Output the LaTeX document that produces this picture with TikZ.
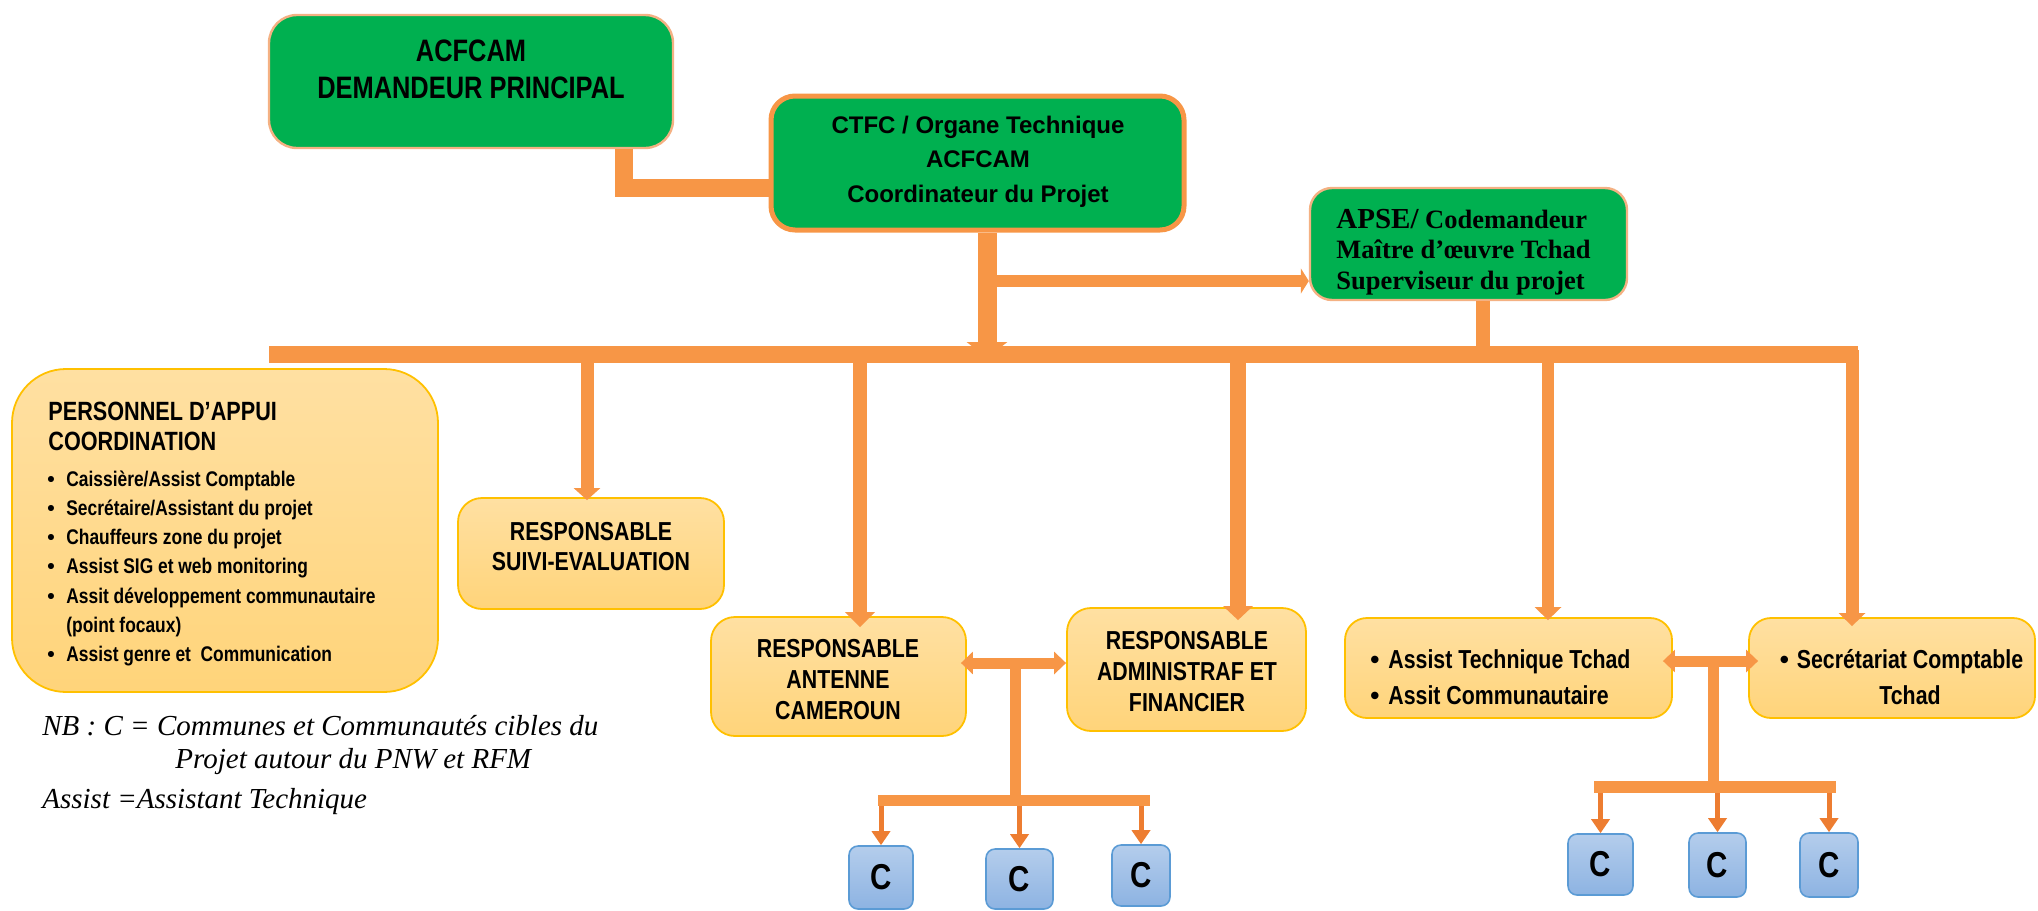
\documentclass[tikz,border=0pt]{standalone}
\usepackage{fontspec}
\setmainfont{Liberation Sans}
\newfontfamily\fNarrow{Liberation Sans}[FakeStretch=0.82]
\newfontfamily\fArial{Liberation Sans}
\newfontfamily\fTimes{Liberation Serif}
\usetikzlibrary{arrows.meta,calc}
\definecolor{grn}{HTML}{00B050}
\definecolor{org}{HTML}{F79646}
\definecolor{orgl}{HTML}{F4B183}
\definecolor{orgd}{HTML}{ED7D31}
\definecolor{ylt}{HTML}{FFE0A2}
\definecolor{ylb}{HTML}{FFD47A}
\definecolor{ybd}{HTML}{FFC000}
\definecolor{blt}{HTML}{B4CDEC}
\definecolor{blb}{HTML}{8DB3E2}
\definecolor{bbd}{HTML}{5B9BD5}
\newcommand\mlc[2]{\vtop{\baselineskip=#1\relax\lineskip=0pt\lineskiplimit=-100pt\halign{\hfil##\hfil\cr#2\crcr}}}
\newcommand\mll[2]{\vtop{\baselineskip=#1\relax\lineskip=0pt\lineskiplimit=-100pt\halign{##\hfil\cr#2\crcr}}}
\newcommand\mkbox[7]{\node[#2, minimum width={(#5-#3)*0.5pt}, minimum height={(#6-#4)*0.5pt}] (#1) at ({(#3+#5)/2},{(#4+#6)/2}) {#7};}
\newcommand\itembul[1]{\makebox[#1][l]{\fArial\bfseries •}}
\tikzset{
  gbox/.style={rectangle, rounded corners=#1, fill=grn, inner sep=0pt},
  ybox/.style={rectangle, rounded corners=#1, top color=ylt, bottom color=ylb, draw=ybd, line width=0.9pt, inner sep=0pt},
  cbox/.style={rectangle, rounded corners=4.5pt, top color=blt, bottom color=blb, draw=bbd, line width=0.8pt, inner sep=0pt, font=\fNarrow\bfseries\fontsize{18pt}{20pt}\selectfont},
  txt/.style={inner sep=0pt},
  conn/.style={draw=org, line width=#1},
  thin/.style={draw=orgd, line width=2.5pt, -{Triangle[width=9pt,length=7pt]}},
}
\begin{document}
\begin{tikzpicture}[x=0.5pt,y=-0.5pt]
\useasboundingbox (0,0) rectangle (2038,910);

% ---------- boxes ----------
\mkbox{acf}{gbox=14pt, draw=orgl, line width=1.2pt}{269}{15}{673}{148}{}
\mkbox{ctfc}{gbox=12pt, draw=org, line width=2.5pt}{771}{96}{1184}{230}{}
\mkbox{apse}{gbox=11pt, draw=orgl, line width=1.2pt}{1310}{188}{1627}{300}{}
\mkbox{pers}{ybox=27pt}{12}{369}{438}{692}{}
\mkbox{suivi}{ybox=12pt}{458}{498}{724}{609}{}
\mkbox{ant}{ybox=12pt}{711}{617}{966}{736}{}
\mkbox{adm}{ybox=12pt}{1067}{608}{1306}{731}{}
\mkbox{ast}{ybox=11pt}{1345}{618}{1672}{718}{}
\mkbox{sec}{ybox=11pt}{1749}{618}{2035}{718}{}
\mkbox{c1}{cbox}{849}{846}{913}{909}{C}
\mkbox{c2}{cbox}{986}{849}{1053}{909}{C}
\mkbox{c3}{cbox}{1112}{845}{1170}{906}{C}
\mkbox{c4}{cbox}{1568}{834}{1633}{895}{C}
\mkbox{c5}{cbox}{1689}{833}{1746}{897}{C}
\mkbox{c6}{cbox}{1800}{833}{1858}{897}{C}

% ---------- texts ----------
\node[txt, anchor=base] (tacf) at (471,61) {\fNarrow\bfseries\fontsize{15.5pt}{18pt}\selectfont\mlc{18.5pt}{ACFCAM\cr DEMANDEUR PRINCIPAL}};
\node[txt, anchor=base] (tctfc) at (978,133) {\fArial\bfseries\fontsize{12pt}{14pt}\selectfont\mlc{17.25pt}{CTFC / Organe Technique\cr ACFCAM\cr Coordinateur du Projet}};
\node[txt, anchor=base west] (tapse) at (1336,228) {\fTimes\bfseries\fontsize{13.25pt}{15pt}\selectfont\mll{15.25pt}{{\fontsize{14.5pt}{15pt}\selectfont APSE/} Codemandeur\cr Maître d’œuvre Tchad\cr Superviseur du projet}};
\node[txt, anchor=base west] (tpers) at (48,420) {\fNarrow\bfseries\fontsize{13.2pt}{15pt}\selectfont\mll{15pt}{PERSONNEL D’APPUI\cr COORDINATION}};
\node[txt, anchor=base west] (lpers) at (47,486) {\fNarrow\bfseries\fontsize{10.6pt}{12pt}\selectfont\mll{14.65pt}{\itembul{9.5pt}Caissière/Assist Comptable\cr
\itembul{9.5pt}Secrétaire/Assistant du projet\cr
\itembul{9.5pt}Chauffeurs zone du projet\cr
\itembul{9.5pt}Assist SIG et web monitoring\cr
\itembul{9.5pt}Assit développement communautaire\cr
\hspace*{9.5pt}(point focaux)\cr
\itembul{9.5pt}Assist genre et~ Communication}};
\node[txt, anchor=base] (tsuivi) at (591,540) {\fNarrow\bfseries\fontsize{13pt}{15pt}\selectfont\mlc{15pt}{RESPONSABLE\cr SUIVI-EVALUATION}};
\node[txt, anchor=base] (tant) at (838,657) {\fNarrow\bfseries\fontsize{13pt}{15pt}\selectfont\mlc{15.5pt}{RESPONSABLE\cr ANTENNE\cr CAMEROUN}};
\node[txt, anchor=base] (tadm) at (1187,649) {\fNarrow\bfseries\fontsize{13pt}{15pt}\selectfont\mlc{15.5pt}{RESPONSABLE\cr ADMINISTRAF ET\cr FINANCIER}};
\node[txt, anchor=base west] (tast) at (1370,668) {\fNarrow\bfseries\fontsize{13pt}{15pt}\selectfont\mll{18pt}{\itembul{9pt}Assist Technique Tchad\cr \itembul{9pt}Assit Communautaire}};
\node[txt, anchor=base] (tsec) at (1910,668) {\fNarrow\bfseries\fontsize{13pt}{15pt}\selectfont\mlc{18pt}{\llap{{\fArial\bfseries •}\hspace{4pt}}Secrétariat Comptable\cr Tchad}};
\node[txt, anchor=base west] (tnb) at (42,735) {\fTimes\itshape\fontsize{14.5pt}{16.5pt}\selectfont\mll{16.5pt}{NB : C = Communes et Communautés cibles du\cr \hspace*{66.5pt}Projet autour du PNW et RFM}};
\node[txt, anchor=base west] (tasn) at (42,808) {\fTimes\itshape\fontsize{14.5pt}{16.5pt}\selectfont Assist =Assistant Technique};

% ---------- connectors ----------
\coordinate (e1) at (624,188);
\draw[conn=9pt] (acf.south -| e1) |- (ctfc.west |- e1);
\coordinate (k1) at (987,358);
\draw[conn=9.5pt, -{Triangle[width=20pt,length=8pt]}] (ctfc.south -| k1) -- (k1);
\coordinate (k2) at (987,281);
\draw[conn=6pt, -{Triangle[width=12.5pt,length=4pt]}] (k2) -- (apse.west |- k2);
\coordinate (k3) at (1483,358);
\draw[conn=7pt, -{Triangle[width=12.5pt,length=6pt]}] (apse.south -| k3) -- (k3);
\coordinate (busL) at (269,354);
\coordinate (busR) at (1858,354);
\draw[conn=8.5pt] (busL) -- (busR);

\coordinate (d1) at (587,354);
\draw[conn=6.5pt, -{Triangle[width=13pt,length=6pt]}] (d1) -- ($(d1 |- suivi.north)+(0,3)$);
\coordinate (d2) at (860,354);
\draw[conn=7pt, -{Triangle[width=14.5pt,length=7.5pt]}] (d2) -- ($(d2 |- ant.north)+(0,11)$);
\coordinate (d3) at (1238,354);
\draw[conn=8pt, -{Triangle[width=14.5pt,length=7pt]}] (d3) -- ($(d3 |- adm.north)+(0,13)$);
\coordinate (d4) at (1548,354);
\draw[conn=6pt, -{Triangle[width=13pt,length=6.5pt]}] (d4) -- ($(d4 |- ast.north)+(0,3)$);
\coordinate (d5) at (1852,350);
\draw[conn=6.5pt, -{Triangle[width=13pt,length=6.5pt]}] (d5) -- ($(d5 |- sec.north)+(0,9)$);

% left group
\coordinate (m1) at (1015,663);
\coordinate (m1b) at (1015,800);
\coordinate (bl1) at (878,800);
\coordinate (bl2) at (1150,800);
\draw[conn=5.5pt, {Triangle[width=11pt,length=6pt]}-{Triangle[width=11pt,length=6pt]}] ($(ant.east |- m1)+(-6,0)$) -- (adm.west |- m1);
\draw[conn=5.5pt] (m1) -- (m1b);
\foreach \cc in {c1,c2,c3} {\draw[thin] ($(\cc.north |- bl1)+(0,4)$) -- (\cc.north);}
\draw[conn=5.5pt] (bl1) -- (bl2);

% right group
\coordinate (m2) at (1713,661);
\coordinate (m2b) at (1713,787);
\coordinate (br1) at (1594,787);
\coordinate (br2) at (1836,787);
\draw[conn=5.5pt, {Triangle[width=11pt,length=6pt]}-{Triangle[width=11pt,length=6pt]}] ($(ast.east |- m2)+(-10,0)$) -- ($(sec.west |- m2)+(10,0)$);
\draw[conn=5.5pt] (m2) -- (m2b);
\foreach \cc in {c4,c5,c6} {\draw[thin] ($(\cc.north |- br1)+(0,4)$) -- (\cc.north);}
\draw[conn=6pt] (br1) -- (br2);
\end{tikzpicture}
\end{document}
